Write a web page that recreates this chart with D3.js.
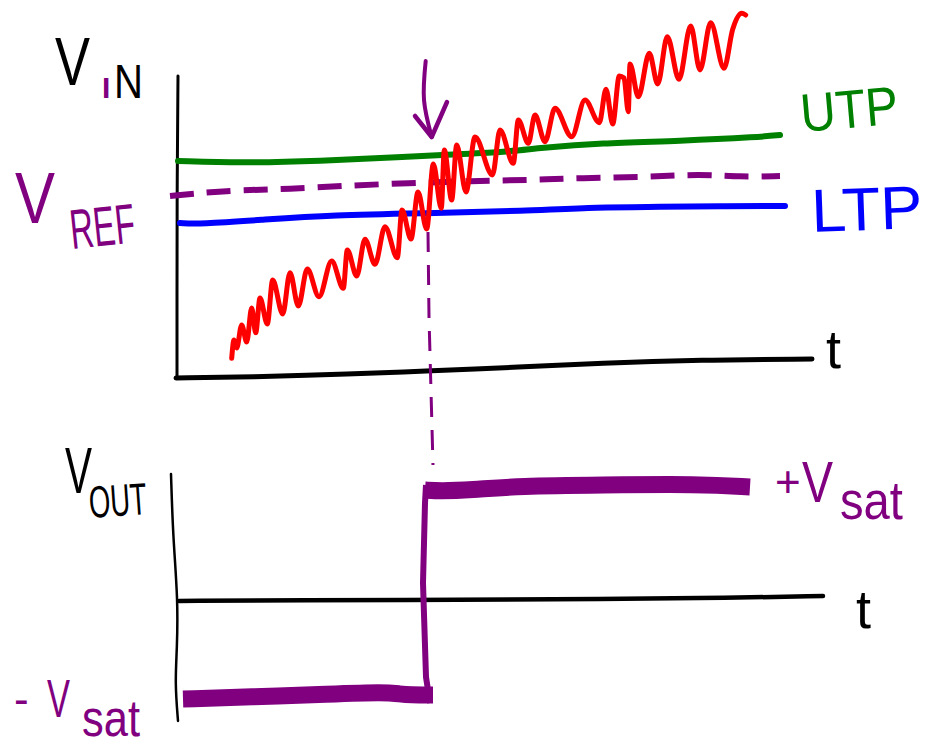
<!DOCTYPE html>
<html>
<head>
<meta charset="utf-8">
<script src="https://cdn.jsdelivr.net/npm/d3@7"></script>
<style>
  html, body { margin: 0; padding: 0; background: #fff; }
  svg { display: block; }
  text { font-family: "Liberation Sans", "DejaVu Sans", sans-serif; }
</style>
</head>
<body>
<svg id="chart" width="941" height="752"></svg>
<script>
// ---------- data (t = time units, v = voltage units) ----------
// top panel: input signal and thresholds
const vinSignal = [
  [55.7,18.7],[58,37],[60.7,29],[65.7,52],[70.7,35],[75.7,69],[79.7,44.3],[84,79],
  [91.3,53],[96.7,97],[106.7,63],[114,104.3],[122.3,71],[131.3,108],[143,80.3],
  [155.7,116],[167.3,88.7],[171.3,127],[180.7,101],[189,137.7],[199,112.7],[209,150.3],
  [221.3,119.3],[226,167],[235,138],[242,185],[250.7,148],[257.3,213],[265.3,168.7],
  [268.3,227],[275.7,177],[280.7,232],[290,185],[299,240],[316.5,202],[324,247],
  [337.3,213.7],[342.3,257],[352.3,233.7],[359,262],[369,235.3],[379,268.7],
  [395.7,240.3],[409,277],[423.3,254.3],[430,287.7],[436.7,253],[443.3,301],[448,299],
  [452.3,265.3],[454,313],[462.3,280.3],[473.3,323.7],[481.7,293],[491.3,340.3],
  [503,297.7],[514.7,351],[524,307],[534.7,354.3],[548,308.7],[556.7,347.7],
  [565.7,363.7],[569.7,362]
];
const utpLine = [[2,216],[64,214],[144,216],[224,220],[284,223],[329,225],[364,229],[424,234],[504,236],[584,240],[604,242]];
const ltpLine = [[4,154],[24,153],[84,157],[154,162],[264,164],[344,166],[424,170],[484,170],[544,171],[609,171]];
const vrefLine = [[-6,181],[24,184],[64,187],[114,188],[164,191],[234,194],[294,196],[354,197],[404,199],[474,200],[524,203],[564,200],[604,201]];
const topTimeAxis = [[0,-1],[74,0],[174,3],[254,6],[344,10],[424,14],[524,17],[636,18]];
const topVoltAxis = [[2,301],[1,177],[1,77],[1,-1]];
const crossingMarker = [[252,145],[253,60],[257,-88]];
const arrowShaft = [[249.7,316],[248,277],[255.7,240]];
const arrowHead = [[239,261],[255.7,240],[271,275]];

// bottom panel: output
const botTimeAxis = [[3,-1],[124,0],[284,0],[424,1],[554,2],[647,4]];
const botVoltAxis = [[-5,126],[-3,63],[2,0],[1,-50],[-1,-83],[2,-121]];
const voutLow = [[7,-99],[74,-97],[154,-94],[209,-92],[224,-94],[234,-95],[257,-95]];
const voutEdge = [[254,-103],[250,-77],[247,17],[249,97],[250,115]];
const voutHigh = [[249,110],[264,109],[294,110],[344,114],[424,115],[524,116],[574,113]];

// labels
const labelTexts = { utp: "UTP", ltp: "LTP", t: "t", vsat: "sat", out: "OUT", ref: "REF" };

// ---------- drawing ----------
const svg = d3.select("#chart");
const x = d3.scaleLinear().domain([0, 636]).range([176, 812]);
const yTop = d3.scaleLinear().domain([0, 300]).range([377, 77]);
const yBot = d3.scaleLinear().domain([-150, 150]).range([750, 450]);

const lineTop = d3.line().x(d => x(d[0])).y(d => yTop(d[1]));
const lineBot = d3.line().x(d => x(d[0])).y(d => yBot(d[1]));
const smoothTop = d3.line().x(d => x(d[0])).y(d => yTop(d[1])).curve(d3.curveBasis);
const smoothBot = d3.line().x(d => x(d[0])).y(d => yBot(d[1])).curve(d3.curveBasis);

const BLACK = "#000", PURPLE = "#800080", GREEN = "#008000", BLUE = "#0000ff", RED = "#ff0000";

function path(gen, data, color, width, extra) {
  const p = svg.append("path").datum(data).attr("d", gen)
    .attr("fill", "none").attr("stroke", color).attr("stroke-width", width)
    .attr("stroke-linecap", "round").attr("stroke-linejoin", "round");
  if (extra) extra(p);
  return p;
}

// top axes
path(smoothTop, topVoltAxis, BLACK, 3);
path(smoothTop, topTimeAxis, BLACK, 5);

// thresholds
path(smoothTop, utpLine, GREEN, 6);
path(smoothTop, ltpLine, BLUE, 6);
path(smoothTop, vrefLine, PURPLE, 6, p => p.attr("stroke-dasharray", "24,13").attr("stroke-linecap", "butt"));

// input signal
path(d3.line().x(d => x(d[0])).y(d => yTop(d[1])).curve(d3.curveMonotoneX), vinSignal, RED, 5);

// crossing marker and arrow
path(lineTop, crossingMarker, PURPLE, 3, p => p.attr("stroke-dasharray", "20,13").attr("stroke-linecap", "butt"));
path(d3.line().x(d => x(d[0])).y(d => yTop(d[1])).curve(d3.curveNatural), arrowShaft, PURPLE, 4);
path(lineTop, arrowHead, PURPLE, 4.5);

// bottom axes
path(smoothBot, botVoltAxis, BLACK, 2.5);
path(smoothBot, botTimeAxis, BLACK, 4.5);

// output
path(smoothBot, voutLow, PURPLE, 17, p => p.attr("stroke-linecap", "butt"));
path(lineBot, voutEdge, PURPLE, 6, p => p.attr("stroke-linecap", "butt"));
path(smoothBot, voutHigh, PURPLE, 17, p => p.attr("stroke-linecap", "butt"));

// ---------- labels ----------
function label(txt, px, py, size, len, color, rot) {
  const t = svg.append("text").text(txt)
    .attr("x", px).attr("y", py)
    .attr("font-size", size).attr("fill", color);
  if (len) t.attr("textLength", len).attr("lengthAdjust", "spacingAndGlyphs");
  if (rot) t.attr("transform", `rotate(${rot},${px},${py})`);
  return t;
}

// V_IN
label("V", 55, 85, 69, 35, BLACK);
label("I", 102, 98, 30, null, PURPLE).attr("font-weight", "bold");
label("N", 114, 98, 48, 29, BLACK);
// V_REF
label("V", 15, 223, 73, 40, PURPLE);
label(labelTexts.ref, 72, 249, 56, 65, PURPLE, -6);
// UTP / LTP
label(labelTexts.utp, 802, 132, 54, 98, GREEN, -5);
label(labelTexts.ltp, 812, 232, 61, 111, BLUE, -2);
// t labels
label(labelTexts.t, 826, 368, 54, null, BLACK);
label(labelTexts.t, 856, 628, 54, null, BLACK);
// V_OUT
label("V", 65, 493, 64, 27, BLACK);
label(labelTexts.out, 90, 518, 45, 58, BLACK, -4);
// +V_sat
label("+", 775, 497, 44, null, PURPLE);
label("V", 802, 502, 58, 31, PURPLE);
label(labelTexts.vsat, 840, 519, 54, 63, PURPLE);
// -V_sat
label("-", 14, 714, 44, null, PURPLE);
label("V", 47, 717, 54, 23, PURPLE);
label(labelTexts.vsat, 82, 736, 52, 58, PURPLE);
</script>
</body>
</html>
